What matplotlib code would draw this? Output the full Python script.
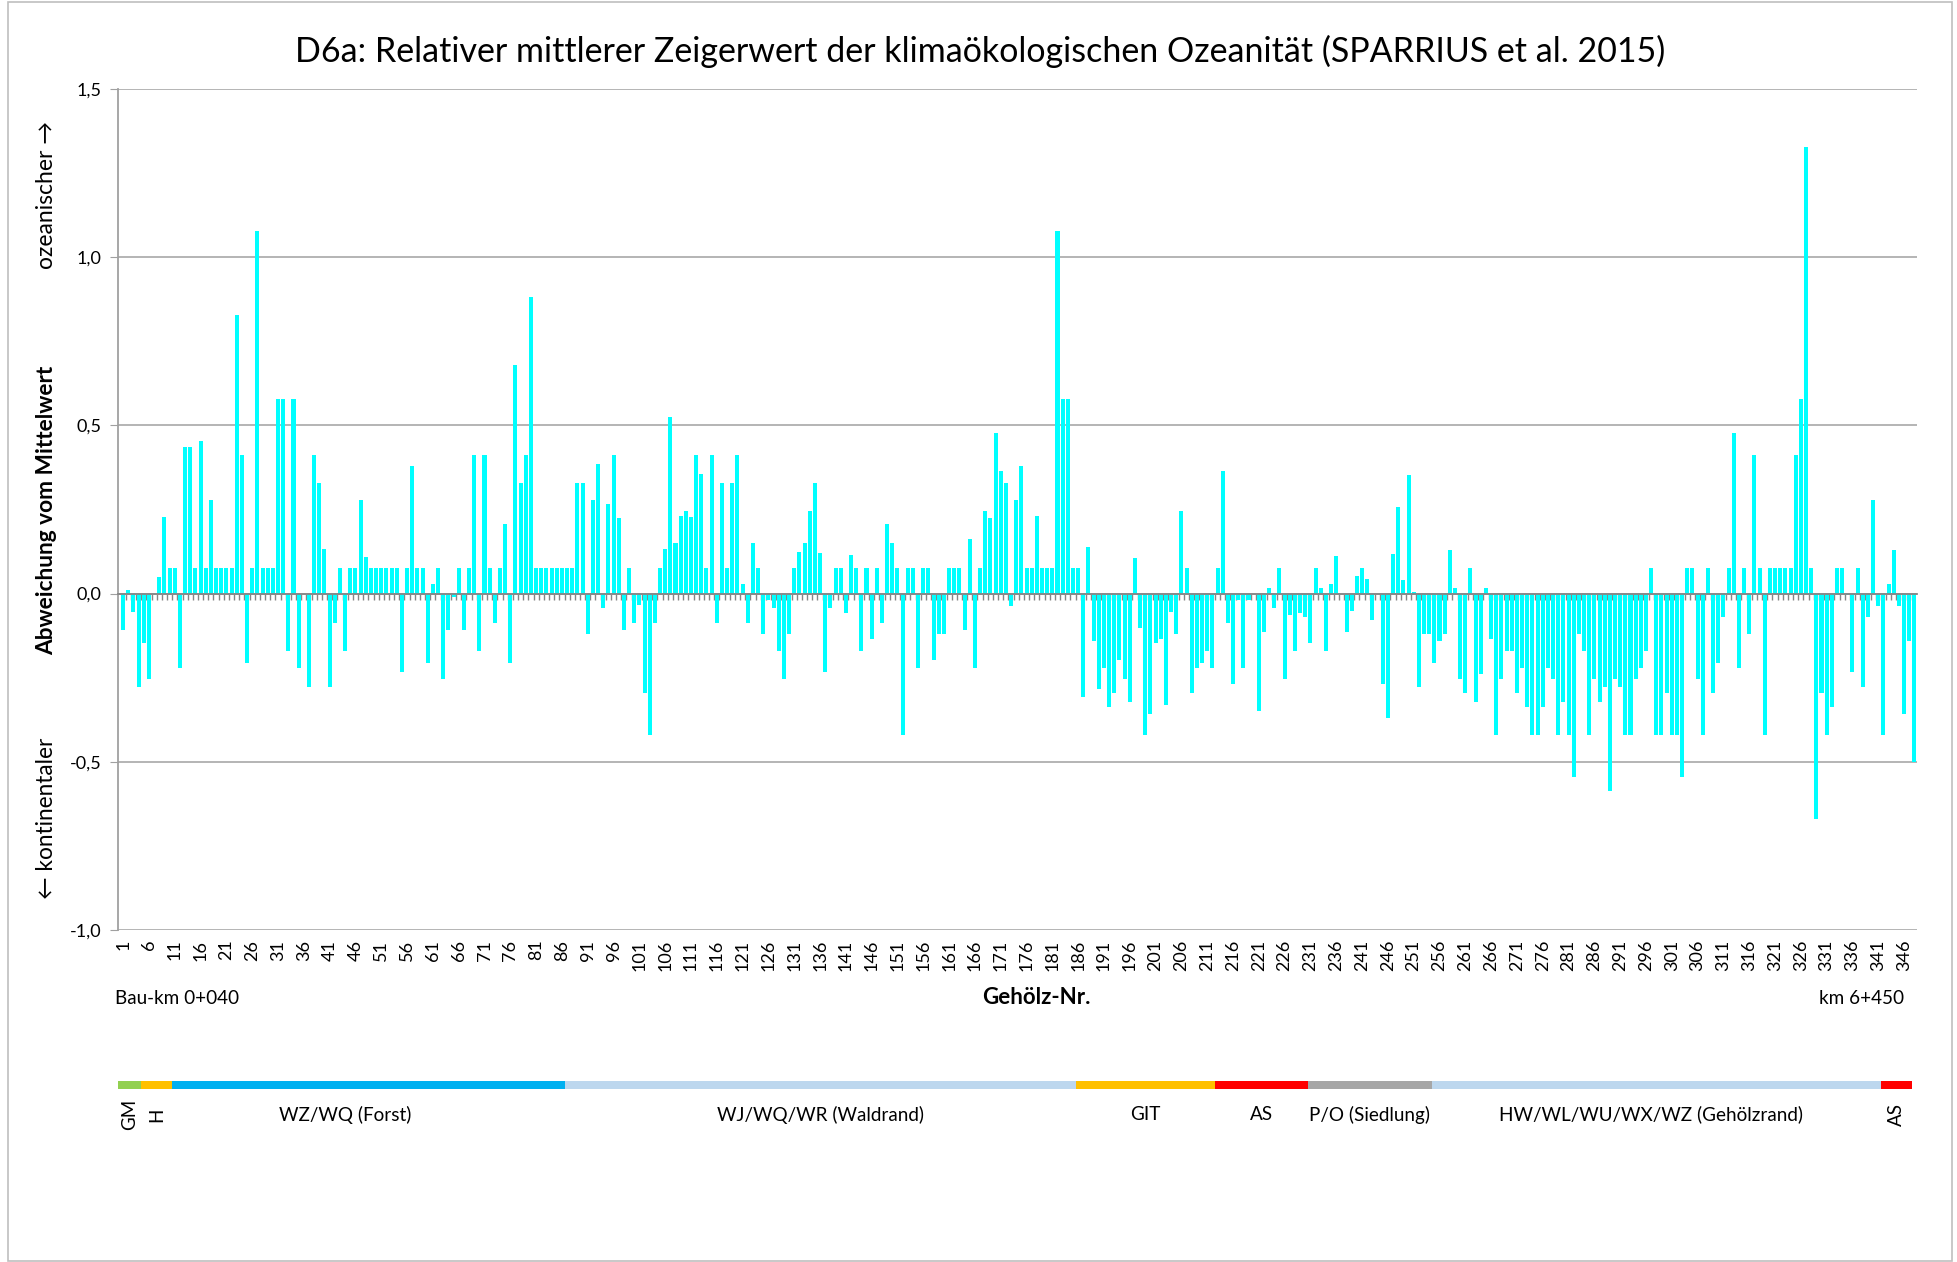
import matplotlib
matplotlib.use("Agg")
import matplotlib.pyplot as plt
from matplotlib.patches import Rectangle

# Abweichung vom Mittelwert je Gehölz (1..348)
werte = [
    -0.108, 0.011, -0.054, -0.279, -0.147, -0.253, 0.0, 0.05, 0.228, 0.077,
    0.077, -0.22, 0.437, 0.437, 0.077, 0.453, 0.077, 0.279, 0.077, 0.077,
    0.077, 0.077, 0.829, 0.413, -0.206, 0.077, 1.078, 0.077, 0.077, 0.077,
    0.579, 0.579, -0.17, 0.579, -0.222, 0.0, -0.279, 0.413, 0.33, 0.134,
    -0.279, -0.088, 0.077, -0.17, 0.077, 0.077, 0.279, 0.109, 0.077, 0.077,
    0.077, 0.077, 0.077, 0.077, -0.233, 0.077, 0.38, 0.077, 0.077, -0.207,
    0.029, 0.077, -0.254, -0.108, -0.011, 0.077, -0.108, 0.077, 0.413, -0.17,
    0.413, 0.077, -0.088, 0.077, 0.206, -0.206, 0.68, 0.33, 0.413, 0.881,
    0.077, 0.077, 0.077, 0.077, 0.077, 0.077, 0.077, 0.077, 0.33, 0.33,
    -0.119, 0.279, 0.385, -0.044, 0.266, 0.413, 0.224, -0.108, 0.077, -0.088,
    -0.034, -0.295, -0.421, -0.088, 0.077, 0.134, 0.524, 0.15, 0.232, 0.246,
    0.228, 0.413, 0.357, 0.077, 0.413, -0.088, 0.33, 0.077, 0.33, 0.413,
    0.029, -0.088, 0.15, 0.077, -0.121, -0.02, -0.044, -0.17, -0.254, -0.121,
    0.077, 0.124, 0.15, 0.246, 0.33, 0.121, -0.233, -0.044, 0.077, 0.077,
    -0.057, 0.116, 0.077, -0.17, 0.077, -0.135, 0.077, -0.088, 0.206, 0.15,
    0.077, -0.421, 0.077, 0.077, -0.222, 0.077, 0.077, -0.197, -0.121, -0.121,
    0.077, 0.077, 0.077, -0.108, 0.161, -0.222, 0.077, 0.246, 0.224, 0.478,
    0.365, 0.33, -0.036, 0.279, 0.38, 0.077, 0.077, 0.232, 0.077, 0.077,
    0.077, 1.078, 0.579, 0.579, 0.077, 0.077, -0.308, 0.14, -0.142, -0.284,
    -0.222, -0.336, -0.295, -0.197, -0.254, -0.321, 0.106, -0.103, -0.421, -0.359,
    -0.147, -0.135, -0.331, -0.054, -0.121, 0.246, 0.077, -0.295, -0.222, -0.207,
    -0.17, -0.222, 0.077, 0.365, -0.088, -0.268, -0.02, -0.222, -0.02, 0.0,
    -0.349, -0.113, 0.018, -0.044, 0.077, -0.254, -0.064, -0.17, -0.059, -0.07,
    -0.147, 0.077, 0.018, -0.17, 0.029, 0.113, 0.0, -0.113, -0.051, 0.051,
    0.077, 0.044, -0.077, 0.0, -0.268, -0.37, 0.117, 0.258, 0.039, 0.352,
    0.005, -0.279, -0.121, -0.121, -0.207, -0.142, -0.121, 0.129, 0.018, -0.254,
    -0.295, 0.077, -0.321, -0.238, 0.018, -0.135, -0.421, -0.254, -0.17, -0.17,
    -0.295, -0.222, -0.336, -0.421, -0.421, -0.336, -0.222, -0.254, -0.421, -0.321,
    -0.421, -0.545, -0.121, -0.17, -0.421, -0.254, -0.321, -0.279, -0.587, -0.254,
    -0.279, -0.421, -0.421, -0.254, -0.222, -0.17, 0.077, -0.421, -0.421, -0.295,
    -0.421, -0.421, -0.545, 0.077, 0.077, -0.254, -0.421, 0.077, -0.295, -0.207,
    -0.07, 0.077, 0.478, -0.222, 0.077, -0.121, 0.413, 0.077, -0.421, 0.077,
    0.077, 0.077, 0.077, 0.077, 0.413, 0.579, 1.328, 0.077, -0.669, -0.295,
    -0.421, -0.336, 0.077, 0.077, -0.005, -0.233, 0.077, -0.279, -0.07, 0.279,
    -0.036, -0.421, 0.029, 0.129, -0.036, -0.359, -0.142, -0.502,
]
gehoelz_nr = list(range(1, len(werte) + 1))

y_ticks = [-1.0, -0.5, 0.0, 0.5, 1.0, 1.5]
y_labels = ["-1,0", "-0,5", "0,0", "0,5", "1,0", "1,5"]

# Abschnitte (Biotoptypen) entlang der Trasse: erste Gehölz-Nr. je Abschnitt
abschnitt_namen = ["GM", "H", "WZ/WQ (Forst)", "WJ/WQ/WR (Waldrand)", "GIT", "AS",
                   "P/O (Siedlung)", "HW/WL/WU/WX/WZ (Gehölzrand)", "AS"]
abschnitt_start = [1, 5, 11, 87, 186, 213, 231, 255, 342]
abschnitt_ende = 347
abschnitt_farben = ["#92D050", "#FFC000", "#00B0F0", "#BDD7EE", "#FFC000",
                    "#FF0000", "#A6A6A6", "#BDD7EE", "#FF0000"]
# Beschriftung leicht verschoben wie im Original (in Gehölz-Nr.)
label_versatz = [0, 0, -4.5, 0, 0, 0, 0, -1, 0]

FONT = ["Lato", "DejaVu Sans"]
plt.rcParams["font.family"] = FONT
W, H = 1958, 1262
grau = "#A0A0A0"

fig = plt.figure(figsize=(W / 100, H / 100), dpi=100)
fig.patches.append(Rectangle((8 / W, 1 / H), (W - 14) / W, (H - 3) / H,
                             transform=fig.transFigure, fill=False,
                             edgecolor="#BFBFBF", linewidth=1.2))

ax = fig.add_axes([118 / W, 1 - 930 / H, (1917 - 118) / W, (930 - 89) / H])
ax.bar(gehoelz_nr, werte, width=0.78, color="#00FFFF", zorder=3)
ax.set_xlim(0.0, len(werte) + 0.5)
ax.set_ylim(-1.0, 1.5)

ax.set_yticks(y_ticks)
ax.set_yticklabels(y_labels, fontsize=13)
ax.yaxis.grid(True, color=grau, linewidth=1.1, zorder=0)
ax.tick_params(axis="y", length=6, color=grau, pad=6)

for s in ["top", "right"]:
    ax.spines[s].set_visible(False)
ax.spines["left"].set_color(grau)
ax.spines["left"].set_linewidth(1.3)
# Rubrikenachse liegt bei 0, kleine Striche zwischen den Balken
ax.spines["bottom"].set_position(("data", 0))
ax.spines["bottom"].set_color("#868686")
ax.spines["bottom"].set_linewidth(1.3)
ax.spines["bottom"].set_zorder(4)
ax.set_xticks([])
ax.set_xticks([n + 0.5 for n in gehoelz_nr[:-1]], minor=True)
ax.tick_params(axis="x", which="minor", length=4, width=1.0, color="#868686",
               direction="out")

sec = ax.secondary_xaxis("bottom")
sec.set_xticks(gehoelz_nr[::5])
sec.set_xticklabels([str(n) for n in gehoelz_nr[::5]], rotation=90, fontsize=13)
sec.tick_params(length=0, pad=7)
sec.spines["bottom"].set_visible(False)

fig.text(0.5006, 1 - 51 / H,
         "D6a: Relativer mittlerer Zeigerwert der klimaökologischen Ozeanität (SPARRIUS et al. 2015)",
         ha="center", va="center", fontsize=24.5)

fig.text(47 / W, 1 - 510 / H, "Abweichung vom Mittelwert", rotation=90,
         ha="center", va="center", fontsize=16.3, fontweight="bold")
fig.text(47 / W, 1 - 195 / H, "ozeanischer \u2192", rotation=90,
         ha="center", va="center", fontsize=16.5)
fig.text(47 / W, 1 - 818 / H, "\u2190 kontinentaler", rotation=90,
         ha="center", va="center", fontsize=16.3)

fig.text(115 / W, 1 - 998 / H, "Bau-km 0+040", ha="left", va="center", fontsize=13.6)
fig.text(1036 / W, 1 - 998 / H, "Gehölz-Nr.", ha="center", va="center",
         fontsize=16, fontweight="bold")
fig.text(1904 / W, 1 - 998 / H, "km 6+450", ha="right", va="center", fontsize=13.6)

# farbiges Band mit den Abschnitten
band = fig.add_axes([118 / W, 1 - 1089 / H, (1917 - 118) / W, 8 / H])
band.set_xlim(ax.get_xlim())
band.set_ylim(0, 1)
band.axis("off")
grenzen = abschnitt_start + [abschnitt_ende + 1]
for i, name in enumerate(abschnitt_namen):
    x0 = grenzen[i] - 0.5 if i > 0 else 0.0
    x1 = grenzen[i + 1] - 0.5
    band.axvspan(x0, x1, color=abschnitt_farben[i], linewidth=0)
    xm = (x0 + x1) / 2 + label_versatz[i]
    if len(name) <= 2 and (x1 - x0) < 8:
        band.text(xm, -3.2, name, rotation=90, ha="center", va="center",
                  fontsize=13.5)
    else:
        band.text(xm, -3.2, name, ha="center", va="center", fontsize=13.6)

fig.savefig("out.png", dpi=100)
